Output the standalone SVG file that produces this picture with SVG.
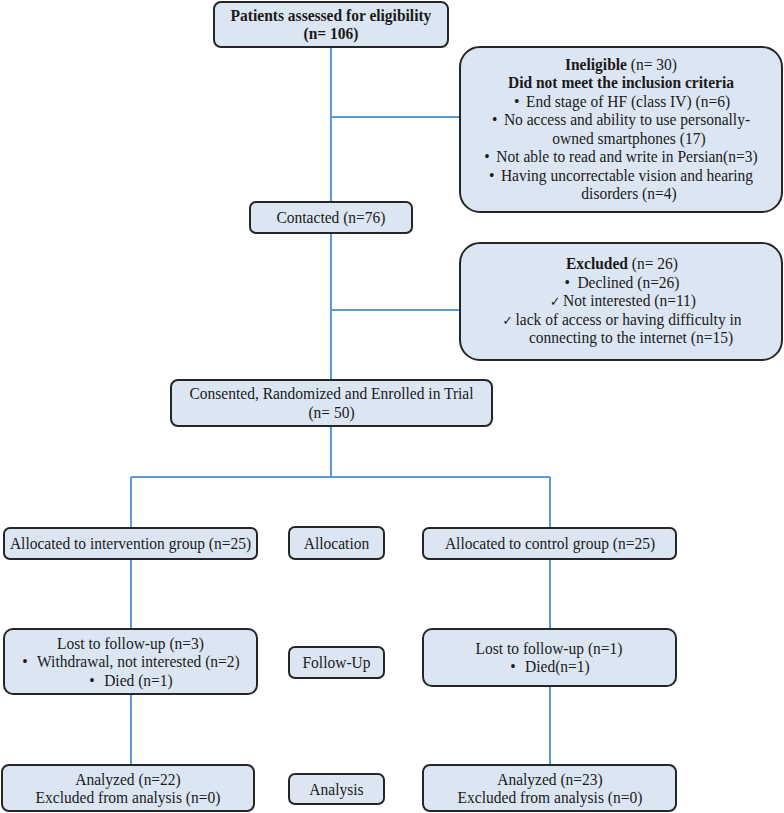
<svg xmlns="http://www.w3.org/2000/svg" width="784" height="813" viewBox="0 0 784 813">
<style>
.box{fill:#dce6f2;stroke:#262626;stroke-width:2}
.t{font-family:"Liberation Serif","Times New Roman",serif;font-size:16.5px;fill:#1a1a1a;text-anchor:middle;transform-box:fill-box;transform-origin:center;transform:scaleX(0.94)}
.b{font-weight:bold}
.ck{font-family:"DejaVu Sans",sans-serif;font-size:13px}
.ln{stroke:#5b9bd5;stroke-width:2;fill:none}
</style>
<rect width="784" height="813" fill="#ffffff"/>
<g id="connectors">
<path class="ln" d="M331 47V202M331 117H460M331 233V380M331 310H460M331 426V477M131 477H550M131 477V528M550 477V528M131 559V629M550 559V629M131 694V765M550 686V765"/>
</g>
<g id="assessed">
<rect class="box" x="214" y="2" width="234" height="45" rx="7"/>
<text class="t b" x="331" y="21">Patients assessed for eligibility</text>
<text class="t b" x="331" y="39">(n= 106)</text>
</g>
<g id="ineligible">
<rect class="box" x="460" y="47" width="322" height="165" rx="20"/>
<text class="t" x="621" y="70"><tspan class="b">Ineligible</tspan> (n= 30)</text>
<text class="t b" x="621" y="88.5">Did not meet the inclusion criteria</text>
<text class="t" x="622" y="107">•<tspan dx="7">End stage of HF (class IV) (n=6)</tspan></text>
<text class="t" x="621" y="125.5">•<tspan dx="7">No access and ability to use personally-</tspan></text>
<text class="t" x="629" y="144">owned smartphones (17)</text>
<text class="t" x="621" y="162.5">•<tspan dx="7">Not able to read and write in Persian(n=3)</tspan></text>
<text class="t" x="621" y="181">•<tspan dx="7">Having uncorrectable vision and hearing</tspan></text>
<text class="t" x="629" y="199.5">disorders (n=4)</text>
</g>
<g id="contacted">
<rect class="box" x="250" y="202" width="162" height="31" rx="6"/>
<text class="t" x="331" y="223">Contacted (n=76)</text>
</g>
<g id="excluded">
<rect class="box" x="460" y="243" width="322" height="117" rx="20"/>
<text class="t" x="622" y="269.5"><tspan class="b">Excluded</tspan> (n= 26)</text>
<text class="t" x="622" y="288">•<tspan dx="8">Declined (n=26)</tspan></text>
<text class="t" x="623" y="306.5"><tspan class="ck">✓</tspan><tspan dx="3">Not interested (n=11)</tspan></text>
<text class="t" x="622" y="325"><tspan class="ck">✓</tspan><tspan dx="3">lack of access or having difficulty in</tspan></text>
<text class="t" x="631" y="343.5">connecting to the internet (n=15)</text>
</g>
<g id="consented">
<rect class="box" x="171" y="380" width="321" height="46" rx="7"/>
<text class="t" x="331.5" y="399">Consented, Randomized and Enrolled in Trial</text>
<text class="t" x="331.5" y="418">(n= 50)</text>
</g>
<g id="alloc-intervention">
<rect class="box" x="4" y="528" width="253" height="31" rx="6"/>
<text class="t" x="130.5" y="549">Allocated to intervention group (n=25)</text>
</g>
<g id="allocation">
<rect class="box" x="289" y="527" width="95" height="32" rx="6"/>
<text class="t" x="336.5" y="549">Allocation</text>
</g>
<g id="alloc-control">
<rect class="box" x="423" y="528" width="253" height="31" rx="6"/>
<text class="t" x="550" y="549">Allocated to control group (n=25)</text>
</g>
<g id="lost-intervention">
<rect class="box" x="4" y="629" width="253" height="65" rx="9"/>
<text class="t" x="130.5" y="649">Lost to follow-up (n=3)</text>
<text class="t" x="131" y="667.5">•<tspan dx="10">Withdrawal, not interested (n=2)</tspan></text>
<text class="t" x="131" y="686">•<tspan dx="10">Died (n=1)</tspan></text>
</g>
<g id="followup">
<rect class="box" x="289" y="647" width="95" height="31" rx="6"/>
<text class="t" x="336.5" y="668">Follow-Up</text>
</g>
<g id="lost-control">
<rect class="box" x="423" y="629" width="253" height="57" rx="9"/>
<text class="t" x="549" y="654">Lost to follow-up (n=1)</text>
<text class="t" x="550" y="672">•<tspan dx="10">Died(n=1)</tspan></text>
</g>
<g id="analyzed-intervention">
<rect class="box" x="2" y="765" width="252" height="46" rx="7"/>
<text class="t" x="128" y="785">Analyzed (n=22)</text>
<text class="t" x="128" y="803">Excluded from analysis (n=0)</text>
</g>
<g id="analysis">
<rect class="box" x="289" y="774" width="95" height="30" rx="6"/>
<text class="t" x="336.5" y="795">Analysis</text>
</g>
<g id="analyzed-control">
<rect class="box" x="423" y="765" width="253" height="46" rx="7"/>
<text class="t" x="550" y="785">Analyzed (n=23)</text>
<text class="t" x="550" y="803">Excluded from analysis (n=0)</text>
</g>
</svg>
